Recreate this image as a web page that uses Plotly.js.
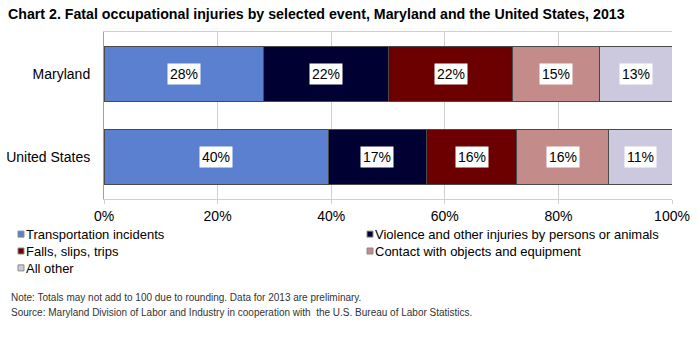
<!DOCTYPE html>
<html><head><meta charset="utf-8">
<script src="https://cdn.plot.ly/plotly-3.0.1.min.js"></script>
<style>html,body{margin:0;padding:0;background:#fff}#chart{width:700px;height:356px}</style>
</head><body><div id="chart"></div>
<script>
const categories = ["Maryland", "United States"];
const seriesNames = ["Transportation incidents", "Violence and other injuries by persons or animals", "Falls, slips, trips", "Contact with objects and equipment", "All other"];
const transportation = [28.0, 39.5];
const violence = [22.1, 17.3];
const falls = [21.9, 15.9];
const contact = [15.3, 16.2];
const allOther = [12.7, 11.1];
const tickVals = [0, 20, 40, 60, 80, 100];
const tickLabels = ["0%", "20%", "40%", "60%", "80%", "100%"];
const colors = ["#5B80CF", "#000033", "#6C0000", "#C48B8B", "#CCC8DD"];
const noteText = "Note: Totals may not add to 100 due to rounding. Data for 2013 are preliminary.";
const sourceText = "Source: Maryland Division of Labor and Industry in cooperation with  the U.S. Bureau of Labor Statistics.";

const series = [transportation, violence, falls, contact, allOther];
const font = "Liberation Sans, Arial, sans-serif";

// plot area geometry (pixels)
const W = 700, H = 356, L = 104, R = 28, T = 32, B = 157;
const pw = W - L - R, ph = H - T - B;
const px = x => (x - L) / pw;
const py = y => (H - B - y) / ph;

const traces = series.map((vals, i) => ({
  type: "bar", orientation: "h", name: seriesNames[i],
  y: categories, x: vals,
  marker: {color: colors[i], line: {color: "#4a4a4a", width: 1}},
  showlegend: false, hoverinfo: "x+name"
}));

const annotations = [];
categories.forEach((cat, ci) => {
  let cum = 0;
  series.forEach((vals) => {
    const v = vals[ci];
    annotations.push({
      x: cum + v / 2, y: cat, xref: "x", yref: "y",
      text: Math.round(v) + "%", showarrow: false,
      bgcolor: "#ffffff", borderpad: 2,
      font: {family: font, size: 14, color: "#000"}
    });
    cum += v;
  });
});

// custom legend in two columns (row-major order, like the reference)
const legFont = 13;
const lineH = legFont * 1.3;
const firstRow = 251 - lineH;
const shapes = [];
const colX = [18, 367];
[0, 1].forEach(col => {
  const names = seriesNames.filter((_, i) => i % 2 === col);
  seriesNames.forEach((name, i) => {
    if (i % 2 !== col) return;
    const cy = firstRow + Math.floor(i / 2) * lineH;
    shapes.push({type: "rect", xref: "paper", yref: "paper",
      x0: px(colX[col]), x1: px(colX[col] + 6), y0: py(cy - 3), y1: py(cy + 3),
      fillcolor: colors[i], line: {color: "#8a8a8a", width: 1}});
  });
  annotations.push({xref: "paper", yref: "paper", x: px(colX[col] + 7), y: py(firstRow - lineH / 2),
    xanchor: "left", yanchor: "top", align: "left", showarrow: false, borderpad: 0,
    text: names.join("<br>"), font: {family: font, size: legFont, color: "#000"}});
});

annotations.push({
  xref: "paper", yref: "paper", x: px(9), y: py(297), xanchor: "left", yanchor: "middle",
  text: noteText, showarrow: false, font: {family: font, size: 10, color: "#333"}
});
annotations.push({
  xref: "paper", yref: "paper", x: px(9), y: py(312), xanchor: "left", yanchor: "middle",
  text: sourceText, showarrow: false, font: {family: font, size: 10, color: "#333"}
});

const layout = {
  width: W, height: H,
  margin: {l: L, r: R, t: T, b: B, pad: 0},
  paper_bgcolor: "#fff", plot_bgcolor: "#fff",
  barmode: "stack", bargap: 0.34,
  font: {family: font, size: 14, color: "#000"},
  title: {text: "<b>Chart 2. Fatal occupational injuries by selected event, Maryland and the United States, 2013</b>",
    x: 8/700, xanchor: "left", xref: "container", y: 1 - 14/356, yanchor: "middle", yref: "container",
    font: {family: font, size: 14.2, color: "#000"}},
  xaxis: {range: [0, 100], tickvals: tickVals, ticktext: tickLabels, automargin: false,
    showgrid: true, gridcolor: "#D0D0D0", gridwidth: 1,
    ticks: "outside", ticklen: 4, tickcolor: "#D0D0D0",
    showline: true, linecolor: "#D0D0D0", mirror: true, zeroline: false,
    tickfont: {family: font, size: 14, color: "#000"}, fixedrange: true},
  yaxis: {autorange: "reversed", automargin: false, showline: true, linecolor: "#A0A0A0", mirror: false,
    ticks: "", ticklabelstandoff: 10, tickfont: {family: font, size: 14, color: "#000"}, fixedrange: true},
  showlegend: false,
  shapes: shapes,
  annotations: annotations
};

Plotly.newPlot("chart", traces, layout, {displayModeBar: false, staticPlot: true});
</script></body></html>
